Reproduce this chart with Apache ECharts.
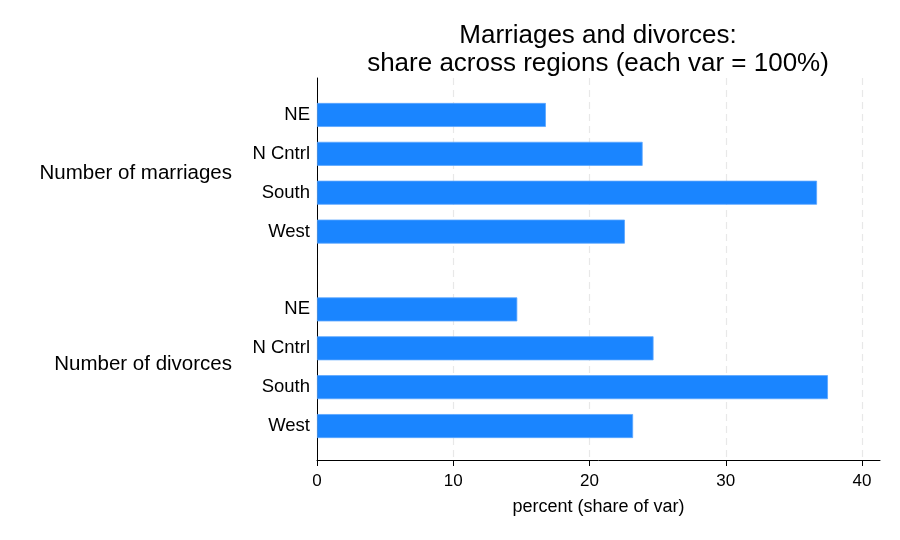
<!DOCTYPE html>
<html>
<head>
<meta charset="utf-8">
<script src="https://cdn.jsdelivr.net/npm/echarts@6/dist/echarts.min.js"></script>
<style>
  html, body { margin: 0; padding: 0; background: #fff; }
  #chart { width: 900px; height: 540px; }
</style>
</head>
<body>
<div id="chart"></div>
<script>
// values (percent of each variable)
const regions = ["NE", "N Cntrl", "South", "West"];
const groups = ["Number of marriages", "Number of divorces"];
const marriages = [16.8, 23.9, 36.7, 22.6];
const divorces = [14.7, 24.7, 37.5, 23.2];
const xTicks = [0, 10, 20, 30, 40];

const FONT = "'Liberation Sans', Arial, Helvetica, sans-serif";

// one empty slot between the two groups
const slots = regions.map(r => "m|" + r)
  .concat(["gap|"])
  .concat(regions.map(r => "d|" + r));
const barData = marriages.concat(["-"]).concat(divorces);

const chart = echarts.init(document.getElementById("chart"));

const option = {
  animation: false,
  backgroundColor: "#fff",
  textStyle: { fontFamily: FONT },
  title: {
    text: "Marriages and divorces:\nshare across regions (each var = 100%)",
    left: 593,
    top: 17,
    textAlign: "center",
    textStyle: {
      fontFamily: FONT,
      fontSize: 26,
      fontWeight: "normal",
      color: "#000",
      lineHeight: 28
    }
  },
  grid: [
    // ticks, labels and dashed grid lines
    { left: 317, right: 38, top: 78, bottom: 80 },
    // axis lines, axis title and group labels
    { left: 317, right: 20, top: 78, bottom: 80 },
    // the bars
    { left: 317, right: 38, top: 95.5, bottom: 94.5 }
  ],
  xAxis: [
    {
      gridIndex: 0,
      type: "value",
      min: xTicks[0],
      max: xTicks[xTicks.length - 1],
      interval: 10,
      axisLine: { show: false },
      axisTick: { show: true, inside: false, length: 6, lineStyle: { color: "#000", width: 1 } },
      axisLabel: { fontSize: 17, color: "#000", margin: 13, fontFamily: FONT },
      splitLine: {
        show: true,
        lineStyle: { color: "#e8e8e8", type: [7, 5], width: 1.2 }
      }
    },
    {
      gridIndex: 1,
      type: "value",
      min: 0,
      max: 1,
      axisLine: { show: true, lineStyle: { color: "#000", width: 1 } },
      axisTick: { show: false },
      axisLabel: { show: false },
      splitLine: { show: false },
      name: "percent (share of var)",
      nameLocation: "middle",
      nameGap: 38,
      nameTextStyle: { fontSize: 18, color: "#000", fontFamily: FONT }
    },
    {
      gridIndex: 2,
      type: "value",
      min: xTicks[0],
      max: xTicks[xTicks.length - 1],
      show: false
    }
  ],
  yAxis: [
    {
      gridIndex: 0,
      type: "value",
      show: false
    },
    {
      gridIndex: 1,
      type: "category",
      inverse: true,
      data: groups,
      axisLine: { show: true, lineStyle: { color: "#000", width: 1 } },
      axisTick: { show: false },
      axisLabel: { fontSize: 20.5, color: "#000", margin: 85, fontFamily: FONT },
      splitLine: { show: false }
    },
    {
      gridIndex: 2,
      type: "category",
      inverse: true,
      data: slots,
      axisLine: { show: false },
      axisTick: { show: false },
      axisLabel: {
        fontSize: 18.5,
        color: "#000",
        margin: 7,
        interval: 0,
        fontFamily: FONT,
        formatter: v => v.split("|")[1]
      }
    }
  ],
  series: [
    {
      type: "bar",
      xAxisIndex: 2,
      yAxisIndex: 2,
      data: barData,
      barWidth: 24,
      itemStyle: {
        color: "#1a85ff",
        borderColor: "#5aa6ff",
        borderWidth: 0.8
      }
    }
  ]
};

chart.setOption(option);
</script>
</body>
</html>
